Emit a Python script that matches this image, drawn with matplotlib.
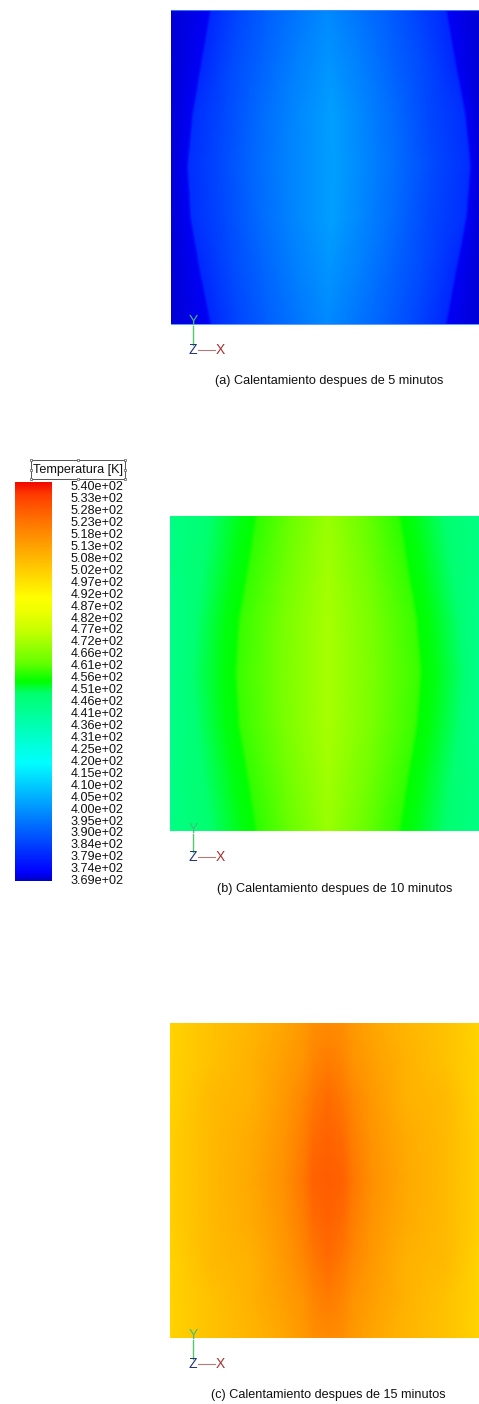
import numpy as np
import matplotlib
matplotlib.use("Agg")
import matplotlib.pyplot as plt
from matplotlib.colors import LinearSegmentedColormap, Normalize
from matplotlib.patches import Rectangle

plt.rcParams['font.family'] = ['Liberation Sans', 'DejaVu Sans']

W, H = 479, 1404
T_MIN, T_MAX = 369.0, 540.0

legend_title = "Temperatura [K]"
legend_labels = ["5.40e+02", "5.33e+02", "5.28e+02", "5.23e+02", "5.18e+02", "5.13e+02",
                 "5.08e+02", "5.02e+02", "4.97e+02", "4.92e+02", "4.87e+02", "4.82e+02",
                 "4.77e+02", "4.72e+02", "4.66e+02", "4.61e+02", "4.56e+02", "4.51e+02",
                 "4.46e+02", "4.41e+02", "4.36e+02", "4.31e+02", "4.25e+02", "4.20e+02",
                 "4.15e+02", "4.10e+02", "4.05e+02", "4.00e+02", "3.95e+02", "3.90e+02",
                 "3.84e+02", "3.79e+02", "3.74e+02", "3.69e+02"]

captions = ["(a) Calentamiento despues de 5 minutos",
            "(b) Calentamiento despues de 10 minutos",
            "(c) Calentamiento despues de 15 minutos"]

# Colour stops of the legend bar: (position on the scale, colour)
scale_stops = [(0.00, "#0000c8"), (0.02, "#0000ff"), (0.295, "#00ffff"), (0.47, "#00ff6e"),
               (0.50, "#00ff00"), (0.546, "#64ff00"), (0.62, "#beff00"), (0.68, "#f0ff00"),
               (0.71, "#ffff00"), (0.83, "#ffaa00"), (0.91, "#ff6e00"), (0.97, "#ff3c00"),
               (1.00, "#f00a00")]

# Panel (a): sample positions across the plate for each height, and temperature there [K]
a_y = [0, 52, 105, 156, 208, 260, 314]
a_x = [[0, 38, 41, 66, 96, 126, 156, 186, 216, 246, 274, 277, 308],
       [0, 29, 32, 60, 92, 124, 158, 190, 220, 252, 283, 286, 308],
       [0, 20, 23, 54, 88, 122, 161, 193, 224, 256, 293, 296, 308],
       [0, 15, 18, 50, 85, 120, 163, 196, 228, 262, 298, 301, 308],
       [0, 18, 21, 54, 88, 122, 161, 193, 224, 256, 294, 297, 308],
       [0, 27, 30, 60, 92, 124, 158, 190, 220, 252, 284, 287, 308],
       [0, 38, 41, 66, 96, 126, 156, 186, 216, 246, 274, 277, 308]]
a_t = [[370, 372, 380, 385, 390, 394, 398, 394, 390, 385, 380, 372, 370],
       [370, 372, 380, 386, 391, 396, 400, 396, 391, 386, 380, 372, 370],
       [370, 372, 381, 386, 392, 397, 402, 397, 392, 386, 381, 372, 370],
       [370, 372, 381, 386, 392, 397, 402, 397, 392, 386, 381, 372, 370],
       [370, 372, 381, 386, 392, 397, 402, 397, 392, 386, 381, 372, 370],
       [370, 372, 380, 386, 391, 396, 400, 396, 391, 386, 380, 372, 370],
       [370, 372, 380, 385, 390, 394, 398, 394, 390, 385, 380, 372, 370]]

# Panel (b)
b_y = [0, 52, 105, 157, 209, 262, 315]
b_x = [[0, 40, 72, 84, 88, 120, 158, 196, 228, 232, 244, 275, 309],
       [0, 34, 64, 76, 80, 116, 158, 200, 236, 240, 252, 281, 309],
       [0, 26, 55, 67, 71, 112, 158, 204, 245, 249, 261, 290, 309],
       [0, 22, 52, 64, 68, 110, 158, 206, 249, 253, 265, 294, 309],
       [0, 26, 55, 67, 71, 112, 158, 204, 245, 249, 261, 290, 309],
       [0, 34, 64, 76, 80, 116, 158, 200, 236, 240, 252, 281, 309],
       [0, 40, 72, 84, 88, 120, 158, 196, 228, 232, 244, 275, 309]]
b_t = [[445, 449, 453.8, 454.5, 458, 463, 470, 463, 458, 454.5, 453.8, 449, 445],
       [445, 449, 453.8, 454.5, 458.5, 464, 471, 464, 458.5, 454.5, 453.8, 449, 445],
       [444, 448, 453.8, 454.5, 459, 465, 472, 465, 459, 454.5, 453.8, 448, 444],
       [444, 448, 453.8, 454.5, 459, 465, 472, 465, 459, 454.5, 453.8, 448, 444],
       [444, 448, 453.8, 454.5, 459, 465, 472, 465, 459, 454.5, 453.8, 448, 444],
       [445, 449, 453.8, 454.5, 458.5, 464, 471, 464, 458.5, 454.5, 453.8, 449, 445],
       [445, 449, 453.8, 454.5, 458, 463, 470, 463, 458, 454.5, 453.8, 449, 445]]

# Panel (c)
c_y = [0, 37, 75, 116, 157, 198, 237, 277, 315]
c_x = [0, 40, 80, 115, 134, 143, 158, 173, 182, 201, 236, 276, 309]
c_t = [[501, 505, 508, 512, 515, 517, 518, 517, 515, 512, 508, 505, 501],
       [501, 505, 509, 513.5, 516, 519, 521, 519, 516, 513.5, 509, 505, 501],
       [501, 507, 509, 515, 519, 522, 525, 522, 519, 515, 509, 507, 501],
       [502, 507, 510.5, 516, 521, 525, 527, 525, 521, 516, 510.5, 507, 502],
       [502, 507, 511, 517, 523, 527, 528, 527, 523, 517, 511, 507, 502],
       [502, 507, 510.5, 516, 521, 525, 527, 525, 521, 516, 510.5, 507, 502],
       [501, 507, 509, 515, 519, 522, 525, 522, 519, 515, 509, 507, 501],
       [501, 505, 509, 513.5, 516, 519, 521, 519, 516, 513.5, 509, 505, 501],
       [501, 505, 508, 512, 515, 517, 518, 517, 515, 512, 508, 505, 501]]

cmap = LinearSegmentedColormap.from_list("fluent", scale_stops, N=1024)
norm = Normalize(T_MIN, T_MAX)

fig = plt.figure(figsize=(W / 100, H / 100), dpi=100, facecolor="white")


def px_axes(x0, y0, x1, y1, **kw):
    return fig.add_axes([x0 / W, 1 - y1 / H, (x1 - x0) / W, (y1 - y0) / H], **kw)


def panel(rect, xs, ys, temps, xmax, ymax):
    ax = px_axes(*rect)
    xs = np.asarray(xs, float)
    ys = np.asarray(ys, float)
    temps = np.asarray(temps, float)
    if xs.ndim == 1:
        xs = np.tile(xs, (len(ys), 1))
    yy = np.tile(ys[:, None], (1, xs.shape[1]))
    ax.pcolormesh(xs, yy, temps, cmap=cmap, norm=norm, shading="gouraud")
    ax.set_xlim(0, xmax)
    ax.set_ylim(ymax, 0)
    ax.axis("off")
    return ax


ax_a = panel((171, 9.5, 479, 323.5), a_x, a_y, a_t, 308, 314)
ax_a.plot([0, 308], [0, 0], color="#3a8cff", lw=0.6, clip_on=False)
ax_a.plot([0, 308], [314, 314], color="#3a8cff", lw=0.6, clip_on=False)
panel((170, 516, 479, 831), b_x, b_y, b_t, 309, 315)
panel((170, 1023, 479, 1338), c_x, c_y, c_t, 309, 315)

# Legend bar
ax_bar = px_axes(15, 482, 52, 881)
ax_bar.imshow(np.linspace(T_MAX, T_MIN, 400)[:, None], aspect="auto", cmap=cmap, norm=norm,
              interpolation="bilinear")
ax_bar.axis("off")

# Overlay in pixel units for text
ov = fig.add_axes([0, 0, 1, 1], facecolor="none", zorder=5)
ov.set_xlim(0, W)
ov.set_ylim(H, 0)
ov.axis("off")

FS = 9.05
ys = np.linspace(486.7, 880.7, len(legend_labels))
for lab, y in zip(legend_labels, ys):
    ov.text(123.5, y + 0.5, lab, ha="right", va="center", fontsize=FS, color="#111111")

ov.add_patch(Rectangle((31, 460), 94, 19, fill=False, ec="#555555", lw=0.7))
ov.text(78.5, 469.5, legend_title, ha="center", va="center", fontsize=FS, color="#111111")
hx = [31, 78, 125, 31, 78, 125, 31, 125]
hy = [460, 460, 460, 479, 479, 479, 469.5, 469.5]
ov.plot(hx, hy, ls="none", marker="s", ms=2, mfc="white", mec="#555555", mew=0.5)

for cap, (cx, cy) in zip(captions, [(329, 381), (335, 889), (328, 1395)]):
    ov.text(cx, cy, cap, ha="center", va="center", fontsize=FS, color="#111111")

for (yl, zy) in [(321, 350), (829, 857), (1335, 1364)]:
    ov.plot([193, 193], [yl + 5, zy - 5], color="#4fc76a", lw=1)
    ov.plot([198, 215], [zy, zy], color="#b57a7a", lw=0.8)
    ov.text(193, yl, "Y", ha="center", va="center", fontsize=10, color="#3fbf80")
    ov.text(193, zy, "Z", ha="center", va="center", fontsize=10, color="#22307a")
    ov.text(220.5, zy, "X", ha="center", va="center", fontsize=10, color="#a83030")

fig.savefig("out.png", dpi=100)
